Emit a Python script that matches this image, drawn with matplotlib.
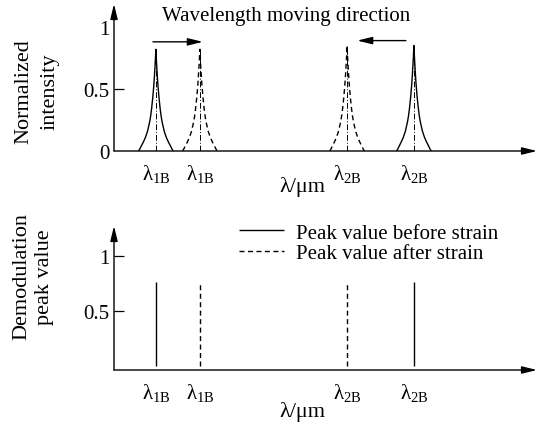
import matplotlib
matplotlib.use("Agg")
import matplotlib.pyplot as plt
import numpy as np

plt.rcParams['font.family'] = ['Liberation Serif', 'DejaVu Serif']
plt.rcParams['mathtext.fontset'] = 'custom'
plt.rcParams['mathtext.rm'] = 'Liberation Serif'
plt.rcParams['mathtext.it'] = 'Liberation Serif:italic'

# peak positions on the wavelength axis (arbitrary units, axis runs 0..100)
pos_before = [9.9, 70.9]
pos_after = [20.3, 55.1]
peak_before = [0.82, 0.85]
peak_after = [0.82, 0.85]
demod_before = [0.76, 0.76]
demod_after = [0.76, 0.76]
tick_pos = [9.9, 20.3, 55.1, 70.9]
tick_text = [r'$\mathrm{\lambda_{1B}}$', r'$\mathrm{\lambda_{1B}}$',
             r'$\mathrm{\lambda_{2B}}$', r'$\mathrm{\lambda_{2B}}$']

# reflection peak profile (offset from centre, relative level)
profile_offset = [0, 0.1, 0.25, 0.4, 0.5, 0.75, 1.0, 1.25, 1.5, 2.0, 2.5, 3.0, 3.5, 3.8, 4.1]
profile_level = [1.0, 0.91, 0.8, 0.7, 0.64, 0.52, 0.42, 0.34, 0.28, 0.19, 0.13,
                 0.085, 0.045, 0.02, 0.0]

W, H = 544, 427
fig = plt.figure(figsize=(W / 100, H / 100), dpi=100)


def rect(x0, y0, x1, y1):
    # pixel box (top-left origin) -> figure fraction
    return [x0 / W, 1 - y1 / H, (x1 - x0) / W, (y1 - y0) / H]


def fpos(x, y):
    return x / W, 1 - y / H


ax1 = fig.add_axes(rect(114, 5, 537, 152))
ax2 = fig.add_axes(rect(114, 227, 537, 371))

dash = (0, (3.6, 2.5))
dashdot = (0, (6, 2, 1, 2))

off = np.array(profile_offset)
lvl = np.array(profile_level)
xs = np.concatenate([-off[::-1], off[1:]])
ys = np.concatenate([lvl[::-1], lvl[1:]])

for c, h in zip(pos_before, peak_before):
    ax1.plot(c + xs, h * ys, color='black', lw=1.0)
    ax1.plot([c, c], [0, h], color='black', lw=0.7, ls=dashdot)
for c, h in zip(pos_after, peak_after):
    ax1.plot(c + xs, h * ys, color='black', lw=1.0, ls=dash)
    ax1.plot([c, c], [0, h], color='black', lw=0.7, ls=dashdot)

# moving direction arrows
arr = dict(arrowstyle='-|>,head_length=0.9,head_width=0.22', color='black',
           lw=1.0, mutation_scale=10, shrinkA=0, shrinkB=0)
ax1.annotate('', xy=(21.0, 0.88), xytext=(9.2, 0.88), arrowprops=arr)
ax1.annotate('', xy=(57.5, 0.89), xytext=(69.0, 0.89), arrowprops=arr)

ax2.vlines(pos_before, 0, demod_before, color='black', lw=1.0,
           label='Peak value before strain')
ax2.vlines(pos_after, 0, demod_after, color='black', lw=1.0, linestyles=[dash],
           label='Peak value after strain')

ax1.set_xlim(0, 100)
ax1.set_ylim(0, 1.185)
ax2.set_xlim(0, 100)
ax2.set_ylim(-0.036, 1.27)

ax1.set_yticks([0, 0.5, 1])
ax1.set_yticklabels(['0', '0.5', '1'])
ax2.set_yticks([0.5, 1])
ax2.set_yticklabels(['0.5', '1'])

for ax in (ax1, ax2):
    for s in ax.spines.values():
        s.set_visible(False)
    ax.set_xticks(tick_pos)
    ax.set_xticklabels(tick_text)
    ax.tick_params(axis='x', length=0, pad=8, labelsize=15)
    ax.tick_params(axis='y', direction='in', length=7, width=0.9, pad=3, labelsize=15)
    head = dict(arrowstyle='-|>,head_length=0.9,head_width=0.22', color='black',
                lw=1.0, mutation_scale=10, shrinkA=0, shrinkB=0)
    ax.annotate('', xy=(1, 0), xytext=(0, 0), xycoords='axes fraction',
                arrowprops=head, annotation_clip=False)
    ax.annotate('', xy=(0, 1), xytext=(0, 0), xycoords='axes fraction',
                arrowprops=head, annotation_clip=False)
ax1.yaxis.get_major_ticks()[0].tick1line.set_visible(False)
ax1.yaxis.get_major_ticks()[2].tick1line.set_visible(False)

fig.text(*fpos(286, 17), 'Wavelength moving direction', fontsize=15,
         ha='center', va='center')
fig.text(*fpos(302, 187), 'λ/μm', fontsize=16, ha='center', va='center')
fig.text(*fpos(302, 412), 'λ/μm', fontsize=16, ha='center', va='center')
fig.text(*fpos(37, 92), 'Normalized\nintensity', fontsize=16, rotation=90,
         ha='center', va='center', linespacing=1.45)
fig.text(*fpos(33, 277), 'Demodulation\npeak value', fontsize=16, rotation=90,
         ha='center', va='center', linespacing=1.25)

ax2.legend(loc='upper left', bbox_to_anchor=fpos(239, 224),
           bbox_transform=fig.transFigure, frameon=False, fontsize=15,
           handlelength=2.15, handletextpad=0.6, labelspacing=0.05,
           borderpad=0, borderaxespad=0)

fig.savefig('out.png', dpi=100)
